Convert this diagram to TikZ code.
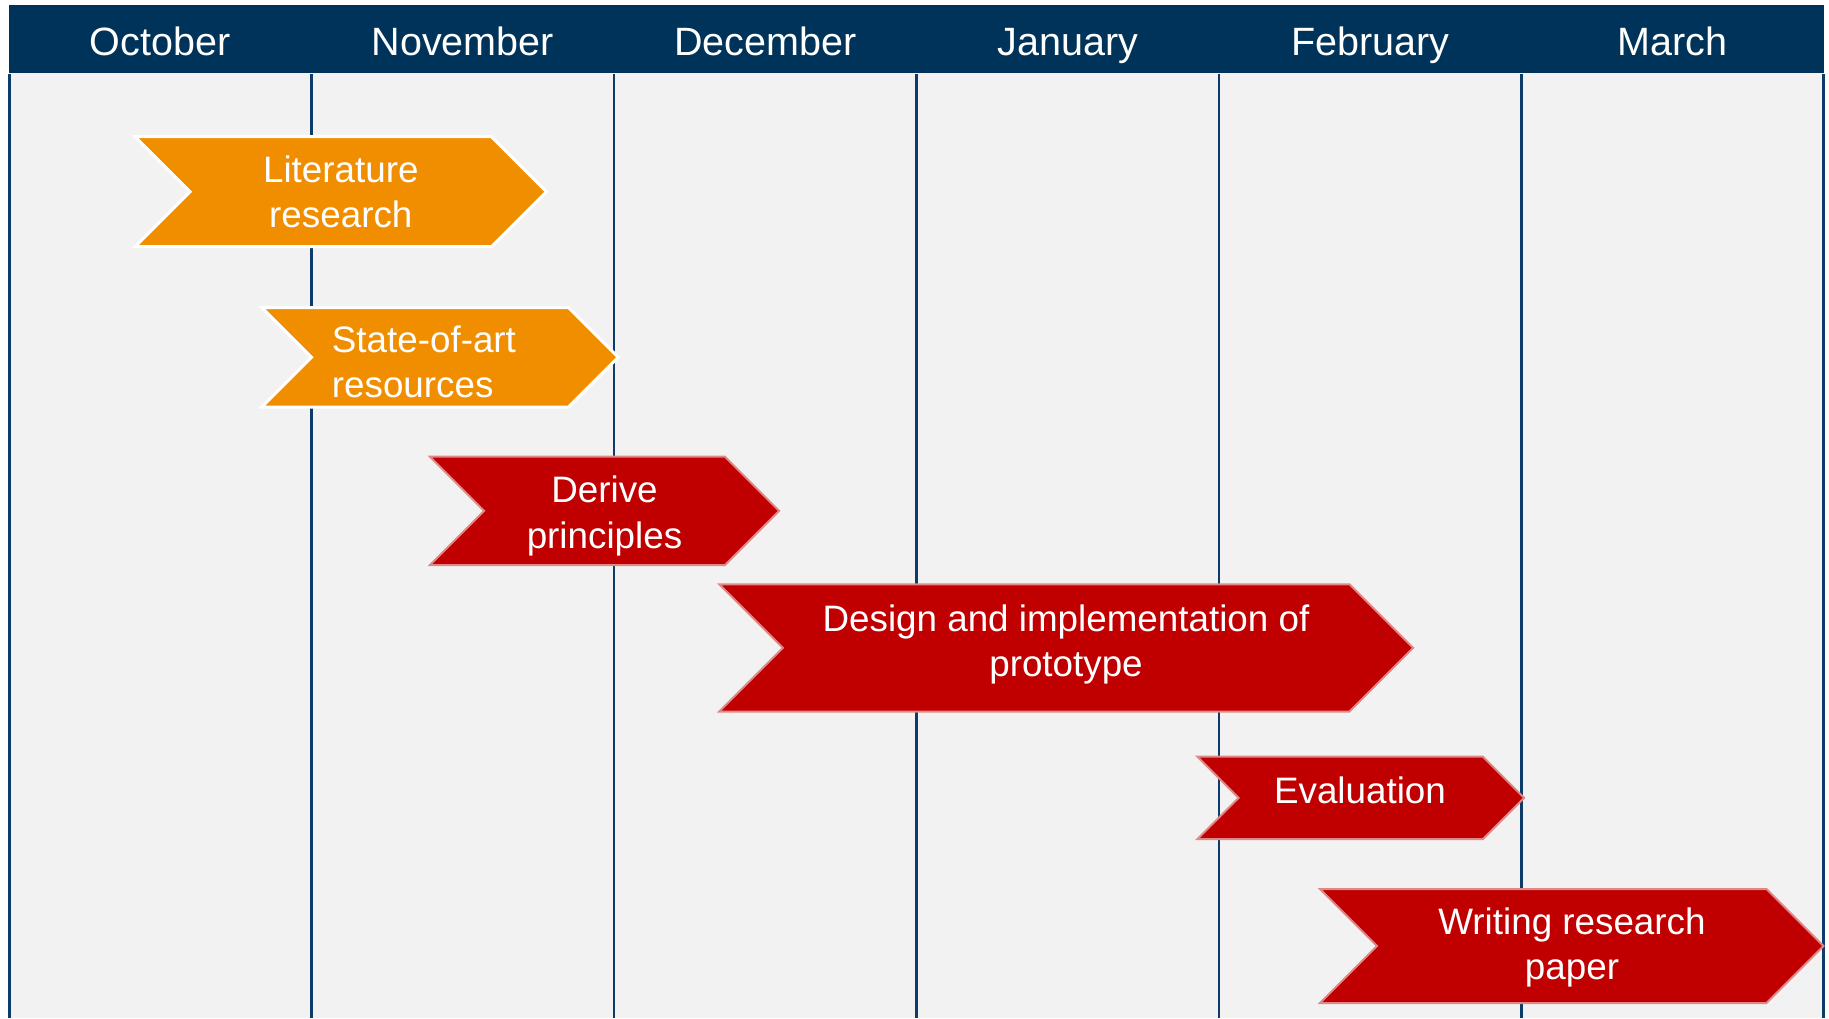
\documentclass[tikz,border=0pt]{standalone}
\usepackage{fontspec}
\setmainfont{Liberation Sans}

\definecolor{headblue}{RGB}{0,51,89}
\definecolor{gridblue}{RGB}{14,60,106}
\definecolor{panelgray}{RGB}{242,242,242}
\definecolor{taskorange}{RGB}{240,142,0}
\definecolor{taskred}{RGB}{192,0,0}
\definecolor{redrim}{RGB}{224,136,136}

% chevron: left x, right (shoulder) x, top y, bottom y, style
\newcommand\chevronpath[5]{%
  \pgfmathsetmacro\ChevHalf{(#4-#3)/2}%
  \pgfmathsetmacro\ChevMid{(#4+#3)/2}%
  \path[#5] (#1,#3) -- (#2,#3) -- ({#2+\ChevHalf},\ChevMid) -- (#2,#4)
    -- (#1,#4) -- ({#1+\ChevHalf},\ChevMid) -- cycle;
}

\tikzset{
  month/.style={text=white, anchor=base, inner sep=0pt,
    font=\fontsize{39.5}{47}\selectfont},
  task/.style={text=white, inner sep=0pt, align=center,
    font=\fontsize{36.8}{45.2}\selectfont},
  early/.style={fill=taskorange, draw=white, line width=3pt, line join=miter},
  late/.style={fill=taskred, draw=redrim, line width=2pt, line join=miter},
  gridline/.style={draw=gridblue, line width=2.8pt},
}

\begin{document}
\begin{tikzpicture}[x=1pt, y=-1pt]
  \useasboundingbox (0,0) rectangle (1829,1018);

  % panel and month header
  \fill[panelgray] (9,73) rectangle (1824,1018);
  \fill[headblue] (9,5) rectangle (1824,73);

  % month separators
  \foreach \gx in {9.5,311.5,614,916.5,1219,1521.5,1823.5}
    \path[gridline] (\gx,74) -- (\gx,1018);

  % month names
  \node[month] (oct) at (160.25,55.5) {October};
  \node[month] (nov) at (462.75,55.5) {November};
  \node[month] (dec) at (765.25,55.5) {December};
  \node[month] (jan) at (1067.75,55.5) {January};
  \node[month] (feb) at (1370.25,55.5) {February};
  \node[month] (mar) at (1672.75,55.5) {March};

  % task chevrons
  \chevronpath{135}{491.5}{136.7}{246.7}{early}
  \chevronpath{261.7}{568.5}{307.5}{407}{early}
  \chevronpath{430}{725}{456.7}{565}{late}
  \chevronpath{719.3}{1349.5}{584.3}{711.5}{late}
  \chevronpath{1197.4}{1483}{756.7}{839}{late}
  \chevronpath{1320}{1766.5}{889}{1003}{late}

  % task labels
  \node[task] (lit) at (340.8,192.2) {Literature\\research};
  \node[task, align=left, anchor=west] (soa) at (331.7,362.2) {State-of-art\\resources};
  \node[task] (der) at (604.5,516) {Derive\\principles};
  \node[task] (des) at (1066,644.2) {Design and implementation of\\prototype};
  \node[task, anchor=base] (eva) at (1360,803) {Evaluation};
  \node[task] (wri) at (1572,947.8) {Writing research\\paper};
\end{tikzpicture}
\end{document}
